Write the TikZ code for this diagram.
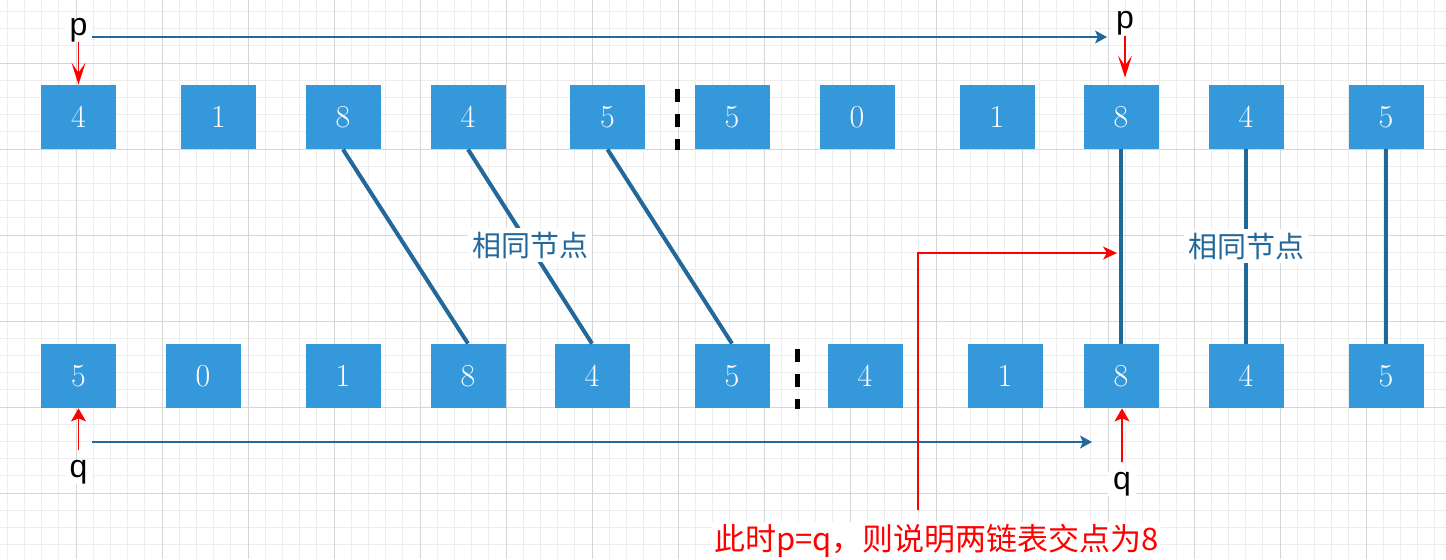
\documentclass[tikz,border=0pt]{standalone}
\usepackage{fontspec}
\usepackage{xcolor}
\usepackage{tikz}
\usetikzlibrary{arrows.meta}
\newfontfamily\cjk{Noto Sans CJK SC}
\newfontfamily\arial{Liberation Sans}
\definecolor{boxblue}{HTML}{3498DB}
\definecolor{lineblue}{HTML}{23689B}
\definecolor{gridmajor}{HTML}{D6D6D6}
\definecolor{gridminor}{HTML}{EDEDED}

\begin{document}
\begin{tikzpicture}[x=0.5pt, y=-0.5pt,
    listnode/.style={fill=boxblue, minimum width=37.5pt, minimum height=32pt, inner sep=0pt, text=white, font=\fontsize{16}{18}\selectfont},
    ptrlabel/.style={fill=white, inner xsep=2.5pt, inner ysep=0pt, font=\arial\fontsize{16}{16}\selectfont},
    samelink/.style={lineblue, line width=2pt},
    samelabel/.style={fill=white, inner sep=2pt, text=lineblue, font=\cjk\fontsize{14.5}{16}\selectfont},
    walk/.style={lineblue, line width=0.75pt, -{Stealth[length=6pt,width=6.5pt,inset=1.5pt]}},
    ptrdown/.style={red, line width=0.6pt, -{Stealth[length=11pt,width=7pt,inset=5pt]}},
    ptrup/.style={red, line width=0.6pt, -{Stealth[length=6.5pt,width=7.5pt,inset=1.5pt]}},
    gapline/.style={line width=2.5pt, dash pattern=on 6.5pt off 6pt}]

    % Background grid
    \useasboundingbox (0,0) rectangle (1446,559);
    \fill[white] (0,0) rectangle (1446,559);
    \begin{scope}[shift={(76,63)}]
        \draw[gridminor, line width=0.5pt, step=8.6pt] (-76,496) grid (1370,-63);
        \draw[gridmajor, line width=0.5pt, step=43pt] (-76,496) grid (1370,-63);
    \end{scope}

    % First list
    \node[listnode] (a1) at (78.5,117) {4};
    \node[listnode] (a2) at (218.5,117) {1};
    \node[listnode] (a3) at (343,117) {8};
    \node[listnode] (a4) at (468,117) {4};
    \node[listnode] (a5) at (607.5,117) {5};
    \node[listnode] (a6) at (732,117) {5};
    \node[listnode] (a7) at (857,117) {0};
    \node[listnode] (a8) at (997,117) {1};
    \node[listnode] (a9) at (1121,117) {8};
    \node[listnode] (a10) at (1246,117) {4};
    \node[listnode] (a11) at (1386,117) {5};
    \draw[gapline] (677,89) -- (677,150);

    % Second list
    \node[listnode] (b1) at (78.5,376) {5};
    \node[listnode] (b2) at (203,376) {0};
    \node[listnode] (b3) at (343,376) {1};
    \node[listnode] (b4) at (468,376) {8};
    \node[listnode] (b5) at (592,376) {4};
    \node[listnode] (b6) at (732,376) {5};
    \node[listnode] (b7) at (865,376) {4};
    \node[listnode] (b8) at (1005,376) {1};
    \node[listnode] (b9) at (1121,376) {8};
    \node[listnode] (b10) at (1246,376) {4};
    \node[listnode] (b11) at (1386,376) {5};
    \draw[gapline] (797,349) -- (797,409);

    % Same nodes
    \draw[samelink] (a3.south) -- (b4.north);
    \draw[samelink] (a4.south) -- (b5.north);
    \draw[samelink] (a5.south) -- (b6.north);
    \draw[samelink] (a9.south) -- (b9.north);
    \draw[samelink] (a10.south) -- (b10.north);
    \draw[samelink] (a11.south) -- (b11.north);
    \node[samelabel] (s1) at (530,245) {相同节点};
    \node[samelabel] (s2) at (1246,246) {相同节点};

    % Pointer p
    \node[ptrlabel] (pa) at (78.5,30) {p};
    \node[ptrlabel] (pb) at (1125,23.5) {p};
    \coordinate (pbeg) at (92,37);
    \coordinate (pend) at (1107,37);
    \draw[walk] (pbeg) -- (pend);
    \draw[ptrdown] (pa.south) -- (a1.north);
    \draw[ptrdown, shorten >=3.5pt] (pb.south) -- (pb.south |- a9.north);

    % Pointer q
    \node[ptrlabel] (qa) at (78.5,472.5) {q};
    \node[ptrlabel] (qb) at (1122,484) {q};
    \coordinate (qbeg) at (92,442);
    \coordinate (qend) at (1092,442);
    \draw[walk] (qbeg) -- (qend);
    \draw[ptrup] ([yshift=5pt]qa.north) -- (b1.south);
    \draw[ptrup] ([yshift=5pt]qb.north) -- (qb.north |- b9.south);

    % Note
    \node[fill=white, inner sep=1pt, text=red, font=\cjk\fontsize{15.5}{18}\selectfont] (note) at (936.5,541) {此时p=q，则说明两链表交点为8};
    \coordinate (turn) at (918,510);
    \coordinate (meet) at (1117,253);
    \draw[red, line width=0.6pt, -{Stealth[length=7pt,width=6.5pt,inset=2pt]}] (turn) |- (meet);
\end{tikzpicture}
\end{document}
